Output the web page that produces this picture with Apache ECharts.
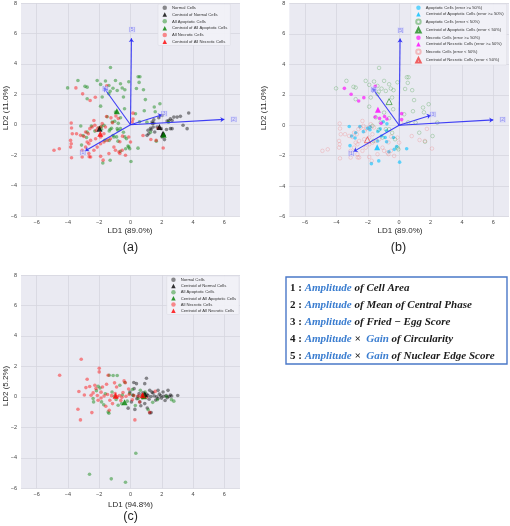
<!DOCTYPE html>
<html><head><meta charset="utf-8">
<script src="https://cdn.jsdelivr.net/npm/echarts@6/dist/echarts.min.js"></script>
<style>html,body{margin:0;padding:0;background:#fff}#c{width:510px;height:526px}</style>
</head><body><div id="c"></div>
<script>
// ---------- tick labels ----------
const xTicks = [-6, -4, -2, 0, 2, 4, 6];
const yTicks = [-6, -4, -2, 0, 2, 4, 6, 8];

// ---------- panels (a)/(b): LDA on 5 features ----------
const normalCells = [[3.72,0.77],[3.62,-0.26],[3.36,-0.04],[2.98,0.50],[2.77,0.50],[2.55,0.39],[2.45,0.28],[2.66,-0.26],[2.55,-0.26],[2.34,0.24],[2.02,0.61],[1.81,0.46],[1.49,0.33],[1.38,0.18],[1.55,-0.48],[1.32,-0.33],[1.17,-0.59],[1.06,-0.70],[1.70,-0.15],[1.96,-0.26],[2.09,-0.59],[2.13,-0.70],[2.17,-0.98],[2.02,-0.81],[1.49,0.11],[1.45,-0.15],[2.66,0.28],[3.19,0.55],[1.40,0.08],[2.30,-0.31],[1.12,-0.36],[1.28,-0.24]];
const normalCentroids = [[1.85,-0.15],[2.08,-0.60],[-1.98,-0.27]];

const apoptoticLowErr = [[-1.28,3.76],[-3.36,2.91],[-4.02,2.42],[-2.91,2.52],[-2.77,2.47],[-2.13,2.91],[-1.91,2.65],[-1.60,2.87],[-1.38,2.58],[-0.96,2.91],[-0.64,2.69],[-0.53,2.41],[-0.36,2.30],[-0.11,2.82],[0.49,3.15],[0.60,3.15],[0.55,2.78],[0.38,2.38],[0.83,2.30],[0.95,1.65],[-0.45,1.82],[-0.85,2.25],[-1.38,2.04],[-1.81,1.82],[-2.77,1.71],[-1.91,1.22],[-1.49,0.52],[-0.96,0.83],[-0.38,1.05],[0.88,0.92],[0.32,0.72],[1.52,1.16],[1.58,0.85],[1.88,1.38],[-0.85,-0.26],[-0.64,-0.26],[-1.06,-0.81],[-0.26,-0.92],[-0.11,-1.47],[-0.05,-1.58],[-1.64,-1.03],[-0.64,0.46],[2.43,0.17],[2.13,-0.71],[1.28,-0.49],[1.65,-1.08],[1.05,0.17],[0.58,0.19],[-1.17,0.18],[-1.70,-0.04],[-0.45,-0.50],[-1.30,-0.30],[-1.30,2.20],[-1.12,2.40]];
const apoptoticHighErr = [[-3.18,-0.08],[-3.03,-0.71],[-2.77,-0.49],[-2.50,-0.09],[-2.28,-0.42],[-2.01,-0.20],[-1.85,-0.12],[-1.86,-0.30],[-1.37,-1.03],[-1.21,-0.24],[-1.36,-0.41],[-0.78,0.09],[-1.12,-0.71],[-0.89,-0.80],[-0.80,-1.08],[-0.36,-0.80],[-0.65,-1.74],[-0.31,-1.58],[-0.16,-1.40],[0.48,-1.54],[0.03,-2.42],[-1.77,-2.52],[-1.30,-2.34],[-2.81,-0.84],[-3.13,-1.34],[-1.01,0.23],[-0.80,-0.36]];
const necroticHighErr = [[-3.49,2.42],[-3.06,2.03],[-2.58,1.59],[-2.25,1.81],[-1.52,2.56],[-1.53,0.54],[-1.15,0.13],[-0.93,0.57],[-0.78,0.41],[0.16,0.76],[0.16,0.37],[-1.25,0.45]];
const necroticLowErr = [[-4.89,-1.68],[-4.55,-1.58],[-3.77,-2.17],[-3.09,-2.12],[-3.83,-1.47],[-3.79,-1.25],[-3.83,-1.03],[-3.72,-0.59],[-3.77,-0.22],[-3.79,0.11],[-3.45,-0.59],[-3.19,-0.70],[-2.87,-0.48],[-2.98,-0.77],[-2.70,-0.59],[-2.60,-0.26],[-2.45,-0.15],[-2.34,0.28],[-2.28,-0.04],[-2.19,-0.37],[-2.09,-0.22],[-1.91,-0.15],[-1.81,0.07],[-1.60,-0.15],[-1.70,-0.59],[-1.91,-0.81],[-2.23,-0.92],[-2.55,-1.03],[-2.77,-1.14],[-2.66,-1.25],[-2.87,-1.47],[-3.09,-1.68],[-2.66,-1.90],[-2.34,-1.68],[-2.13,-1.47],[-1.91,-1.25],[-1.70,-1.14],[-1.49,-1.03],[-1.28,-0.92],[-1.06,-1.47],[-0.96,-1.68],[-0.74,-1.79],[-0.53,-1.68],[-0.32,-2.01],[-1.38,-1.90],[-1.91,-2.08],[-2.55,-2.12],[-2.64,-2.11],[-1.75,-2.33],[-0.68,-1.89],[0.11,0.18],[1.64,-1.03],[2.09,-1.53],[1.30,-0.97],[0.80,-0.71],[-0.11,-0.81],[0.00,-1.14],[-0.51,-0.75],[-0.68,-1.12],[1.77,-0.24]];
const apoptoticCentroids = [[-0.87,0.88],[2.12,-0.66]];
const necroticCentroids = [[-1.93,-0.60]];
const apoHighCentroid = [[-1.40,-1.45]];
const apoLowCentroid = [[-0.64,1.55]];
const necHighCentroid = [[-1.35,1.02]];
const necLowCentroid = [[-2.02,-0.95]];

// biplot loading vectors (tips) and label positions
const vectorNames = ['[1]', '[2]', '[3]', '[4]', '[5]'];
const vectorTips = [[-2.91,-1.73],[6.0,0.35],[2.02,0.66],[-1.70,2.43],[0.06,5.69]];
const vectorLabelPos = [[-3.05,-1.84],[6.6,0.36],[2.15,0.72],[-1.62,2.36],[0.1,6.24]];

// ---------- panel (c) ----------
const normalCellsC = [[3.02,0.09],[1.02,1.22],[0.91,0.87],[0.38,0.87],[0.21,0.94],[1.23,0.43],[1.44,0.26],[1.76,0.43],[2.08,0.32],[2.40,0.43],[2.55,0.12],[1.32,-1.03],[1.23,-1.06],[-0.15,-0.74],[0.28,-0.82],[1.76,-0.11],[0.91,-0.44],[0.60,-0.33],[0.06,-0.33],[-0.04,0.32],[0.23,0.54],[0.47,0.04],[0.72,0.07],[0.88,0.02],[1.12,0.08],[1.31,0.03],[1.52,0.06],[1.68,0.01],[1.93,0.07],[2.12,0.04],[2.28,0.09],[2.47,0.03],[2.63,0.06],[1.04,0.17],[1.19,-0.16],[1.61,-0.21],[1.98,-0.08],[0.41,-0.12],[0.79,0.27],[1.38,0.31],[2.21,-0.24],[0.66,-0.58],[1.07,-0.73],[0.55,0.22],[1.85,0.18],[2.35,-0.05],[0.15,0.12]];
const apoptoticC = [[-2.62,-5.08],[-1.23,-5.38],[-0.32,-5.60],[0.34,-3.70],[-1.38,-1.07],[2.77,-0.28],[-1.11,1.40],[-0.85,1.40],[-1.36,1.42],[-2.07,0.70],[-2.39,-0.11],[-2.36,-0.33],[-1.85,-0.33],[-1.43,-0.99],[-0.68,0.76],[-0.36,0.94],[-0.79,-0.55],[2.62,-0.18],[1.13,-0.84],[-0.52,0.12],[-1.03,0.04],[-1.61,0.21],[0.18,0.09],[0.49,-0.11],[0.93,0.31],[1.72,-0.19],[2.31,0.02],[-0.21,-0.28],[-1.18,0.32],[-0.92,-0.17],[0.12,0.48],[-2.18,0.41],[-1.71,-0.52],[0.63,0.44],[1.42,-0.36],[-0.56,-0.44],[0.31,-0.57],[-1.95,0.58],[-0.05,0.22],[0.77,-0.06]];
const necroticC = [[-3.15,2.47],[-4.53,1.42],[-3.30,0.35],[-2.77,1.16],[-3.36,-0.81],[-3.20,-1.51],[-2.47,-1.03],[-2.00,1.88],[-2.00,1.64],[0.28,-1.51],[1.23,-1.01],[-1.43,1.42],[-1.36,-0.88],[-2.85,0.61],[-2.39,0.26],[-2.28,0.76],[-1.79,0.65],[-1.53,0.83],[-0.89,0.65],[-0.85,0.01],[-1.32,-0.22],[-1.15,-0.44],[-2.07,-0.22],[-2.61,0.68],[-2.52,0.11],[-2.12,0.09],[-1.88,0.31],[-1.69,0.06],[-1.47,0.16],[-1.21,0.08],[-0.98,0.22],[-0.71,0.09],[-0.48,0.29],[-0.29,0.04],[-0.08,0.16],[0.22,0.08],[0.51,0.05],[0.79,0.14],[1.02,-0.02],[-0.41,1.05],[-0.33,0.93],[-2.21,0.55],[-1.58,-0.61],[-0.62,-0.24],[0.12,-0.19],[0.58,-0.34],[1.58,0.36],[-2.95,0.12],[-1.02,0.92],[-0.12,0.52],[-1.88,-0.07],[-0.55,-0.03]];
const normalCentroidsC = [[0.92,0.17]];
const apoptoticCentroidsC = [[-0.38,-0.35],[0.86,0.04]];
const necroticCentroidsC = [[-0.95,0.08],[0.78,0.10]];

// ---------- styles ----------
const FONT = '"Liberation Sans", Arial, sans-serif';
const BG = '#EAEAF2';
const GRIDLINE = '#D6D6DE';
const C_NORMAL = 'rgba(0,0,0,0.55)';
const C_APO = 'rgba(0,128,0,0.55)';
const C_NEC = 'rgba(255,0,0,0.55)';

function mkX(gi){
  return {gridIndex:gi, type:'value', min:-7, max:7,
    axisLine:{show:false}, axisTick:{show:false, customValues:xTicks},
    axisLabel:{customValues:xTicks, fontSize:5.5, color:'#444', margin:3, fontFamily:FONT,
      formatter:v=>String(v).replace('-','\u2212')},
    splitLine:{show:true, lineStyle:{color:GRIDLINE, width:0.8}}};
}
function mkY(gi){
  return {gridIndex:gi, type:'value', min:-6, max:8, interval:2,
    axisLine:{show:false}, axisTick:{show:false},
    axisLabel:{fontSize:5.5, color:'#444', margin:4, fontFamily:FONT,
      formatter:v=>String(v).replace('-','\u2212')},
    splitLine:{show:true, lineStyle:{color:GRIDLINE, width:0.8}}};
}
function sc(name, gi, data, color, symbol, size, extra){
  return Object.assign({type:'scatter', name, xAxisIndex:gi, yAxisIndex:gi, data,
    symbol, symbolSize:size, itemStyle:{color}, emphasis:{disabled:true}, silent:true}, extra||{});
}
function hollow(name, gi, data, color, symbol, size, bw){
  return {type:'scatter', name, xAxisIndex:gi, yAxisIndex:gi, data, symbol, symbolSize:size,
    itemStyle:{color:'rgba(0,0,0,0)', borderColor:color, borderWidth:bw||0.6}, silent:true};
}
function vectors(gi){
  return [{type:'lines', coordinateSystem:'cartesian2d', xAxisIndex:gi, yAxisIndex:gi,
      symbol:['none','arrow'], symbolSize:4, silent:true, z:5,
      lineStyle:{color:'#2B2BF5', width:1.1, opacity:0.9},
      data: vectorTips.map(t=>({coords:[[0,0],t]}))},
    {type:'scatter', xAxisIndex:gi, yAxisIndex:gi, symbolSize:0, silent:true, z:6,
      data: vectorLabelPos.map((p,i)=>({value:p, name:vectorNames[i]})),
      label:{show:true, position:'inside', formatter:'{b}', fontSize:5, color:'#6E6EF0',
        backgroundColor:'rgba(205,205,250,0.6)', padding:[0.5,0.5], fontFamily:FONT}}];
}
function legend(left, top, names, gap){
  return {left, top, orient:'vertical', selectedMode:false, data:names,
    itemWidth:4.5, itemHeight:4.5, itemGap:gap,
    backgroundColor:'rgba(242,242,247,0.9)', borderColor:'#D8D8E0', borderWidth:0.5, borderRadius:1,
    padding:[1.5,3,1.5,4.5],
    textStyle:{fontSize:4.2, lineHeight:4.5, color:'#333', fontFamily:FONT}};
}

const chart = echarts.init(document.getElementById('c'), null, {renderer:'canvas'});
const namesA = ['Normal Cells','Centroid of Normal Cells','All Apoptotic Cells','Centroid of All Apoptotic Cells','All Necrotic Cells','Centroid of All Necrotic Cells'];
const namesB = ['Apoptotic Cells (error >= 50%)','Centroid of Apoptotic Cells (error >= 50%)','Apoptotic Cells (error < 50%)','Centroid of Apoptotic Cells (error < 50%)','Necrotic Cells (error >= 50%)','Centroid of Necrotic Cells (error >= 50%)','Necrotic Cells (error < 50%)','Centroid of Necrotic Cells (error < 50%)'];

const allApo = apoptoticLowErr.concat(apoptoticHighErr);
const allNec = necroticLowErr.concat(necroticHighErr);

const txt = (x,y,text,size,rot)=>({type:'text', x, y, rotation:rot||0, silent:true,
  style:{text, fill:'#262626', font:size+'px '+FONT, align:'center', verticalAlign:'middle', textAlign:'center', textVerticalAlign:'middle'}});

const serif = '"Liberation Serif", "DejaVu Serif", serif';
const KS = 11;
const rich = {
  n:{fontFamily:serif, fontWeight:'bold', fontSize:KS, fill:'#1a1a1a'},
  a:{fontFamily:serif, fontWeight:'bold', fontStyle:'italic', fontSize:KS, fill:'#3A7DD0'},
  t:{fontFamily:serif, fontWeight:'bold', fontStyle:'italic', fontSize:KS, fill:'#1a1a1a'}
};
const keyLines = [
  '{n|1 : }{a|Amplitude}{t| of Cell Area}',
  '{n|2 : }{a|Amplitude}{t| of Mean of Central Phase}',
  '{n|3 : }{a|Amplitude}{t| of Fried \u2212 Egg Score}',
  '{n|4 : }{a|Amplitude}{t| \u00d7  }{a|Gain}{t| of Circularity}',
  '{n|5 : }{a|Amplitude}{t| \u00d7  }{a|Gain}{t| of Nuclear Edge Score}'
];
const keyY = [288.3, 305, 322, 339, 356];

const option = {
  animation:false,
  backgroundColor:'#fff',
  grid:[
    {left:21, top:3, width:219, height:213, show:true, backgroundColor:BG, borderWidth:0},
    {left:289.3, top:3.3, width:219.7, height:213.4, show:true, backgroundColor:BG, borderWidth:0},
    {left:21, top:275, width:219, height:213.3, show:true, backgroundColor:BG, borderWidth:0}
  ],
  xAxis:[mkX(0), mkX(1), mkX(2)],
  yAxis:[mkY(0), mkY(1), mkY(2)],
  legend:[
    legend(158, 4, namesA, 2.3),
    legend(410.7, 4, namesB, 2.0),
    legend(166.7, 276, namesA, 1.7)
  ],
  series:[
    // (a)
    sc('Normal Cells',0,normalCells,C_NORMAL,'circle',3.6),
    sc('All Apoptotic Cells',0,allApo,C_APO,'circle',3.6),
    sc('All Necrotic Cells',0,allNec,C_NEC,'circle',3.6),
    sc('Centroid of Normal Cells',0,normalCentroids,'#000','triangle',6),
    sc('Centroid of All Apoptotic Cells',0,apoptoticCentroids,'#008000','triangle',6),
    sc('Centroid of All Necrotic Cells',0,necroticCentroids,'#FF0000','triangle',6),
    ...vectors(0),
    // (b)
    sc('Apoptotic Cells (error >= 50%)',1,apoptoticHighErr,'rgba(0,191,255,0.75)','circle',3.6),
    hollow('Apoptotic Cells (error < 50%)',1,apoptoticLowErr,'rgba(0,128,0,0.45)','circle',3.6),
    sc('Necrotic Cells (error >= 50%)',1,necroticHighErr,'rgba(255,0,255,0.8)','circle',3.6),
    hollow('Necrotic Cells (error < 50%)',1,necroticLowErr,'rgba(240,90,90,0.45)','circle',3.6),
    sc('Centroid of Apoptotic Cells (error >= 50%)',1,apoHighCentroid,'#00BFFF','triangle',6),
    hollow('Centroid of Apoptotic Cells (error < 50%)',1,apoLowCentroid,'#1E8C1E','triangle',6,0.8),
    sc('Centroid of Necrotic Cells (error >= 50%)',1,necHighCentroid,'#FF00FF','triangle',6),
    hollow('Centroid of Necrotic Cells (error < 50%)',1,necLowCentroid,'#F03C3C','triangle',6,0.8),
    ...vectors(1),
    // (c)
    sc('Normal Cells',2,normalCellsC,C_NORMAL,'circle',3.6),
    sc('All Apoptotic Cells',2,apoptoticC,C_APO,'circle',3.6),
    sc('All Necrotic Cells',2,necroticC,C_NEC,'circle',3.6),
    sc('Centroid of Normal Cells',2,normalCentroidsC,'#000','triangle',6),
    sc('Centroid of All Apoptotic Cells',2,apoptoticCentroidsC,'#008000','triangle',6),
    sc('Centroid of All Necrotic Cells',2,necroticCentroidsC,'#FF0000','triangle',6)
  ],
  graphic:[
    txt(130,230.5,'LD1 (89.0%)',8), txt(5.5,108,'LD2 (11.0%)',8,Math.PI/2), txt(130.5,248,'(a)',12.5),
    txt(400,230.5,'LD1 (89.0%)',8), txt(263.5,108,'LD2 (11.0%)',8,Math.PI/2), txt(398.5,248,'(b)',12.5),
    txt(130.5,505,'LD1 (94.8%)',8), txt(5.5,386,'LD2 (5.2%)',8,Math.PI/2), txt(130.5,517,'(c)',12.5),
    {type:'rect', silent:true, shape:{x:286,y:277,width:221,height:87}, style:{fill:'#fff', stroke:'#4A78C8', lineWidth:1.4}},
    ...keyLines.map((t,i)=>({type:'text', x:290, y:keyY[i], silent:true,
      style:{text:t, rich, align:'left', verticalAlign:'middle', textAlign:'left', textVerticalAlign:'middle'}}))
  ]
};
chart.setOption(option);
</script></body></html>
